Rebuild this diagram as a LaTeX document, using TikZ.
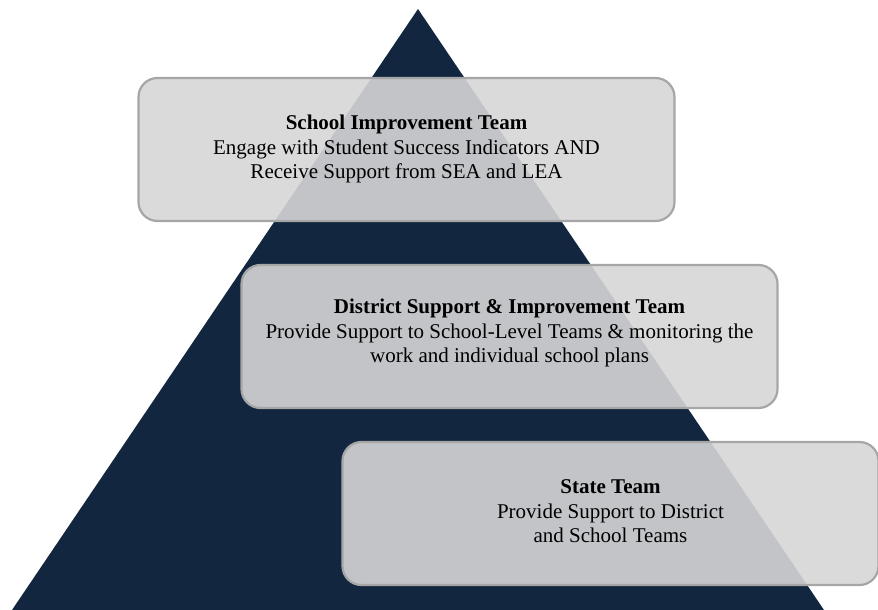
\documentclass[tikz,border=0pt]{standalone}
\usepackage{fontspec}
\setmainfont{Liberation Serif}
\definecolor{navy}{RGB}{18,38,64}
\definecolor{boxfill}{RGB}{214,214,215}
\definecolor{boxline}{RGB}{166,166,166}
\begin{document}
\begin{tikzpicture}[x=1pt,y=-1pt,
  tier/.style={draw=boxline, line width=2.2pt, fill=boxfill, fill opacity=0.9,
    rounded corners=19pt, minimum width=536pt, minimum height=143pt, inner sep=0pt},
  tiertext/.style={align=center, inner sep=0pt, text=black,
    font=\fontsize{21}{24.5}\selectfont}]
  \useasboundingbox (0,0) rectangle (878,610);
  % the pyramid
  \coordinate (apex) at (418,9);
  \coordinate (bl) at (12,610);
  \coordinate (br) at (824,610);
  \fill[navy] (apex) -- (bl) -- (br) -- cycle;
  % translucent tier boxes
  \node[tier] (school) at (406.5,149.5) {};
  \node[tier] (district) at (509.5,336.5) {};
  \node[tier] (state) at (610.5,513.5) {};
  % tier captions
  \node[tiertext] (schooltext) at ([yshift=0.5pt]school.center)
    {{\bfseries School Improvement Team}\\
     Engage with Student Success Indicators AND\\
     Receive Support from SEA and LEA};
  \node[tiertext] (districttext) at ([yshift=3.5pt]district.center)
    {{\bfseries District Support \& Improvement Team}\\
     Provide Support to School-Level Teams \& monitoring the\\
     work and individual school plans};
  \node[tiertext] (statetext) at ([yshift=2pt]state.center)
    {{\bfseries State Team}\\
     Provide Support to District\\
     and School Teams};
\end{tikzpicture}
\end{document}
